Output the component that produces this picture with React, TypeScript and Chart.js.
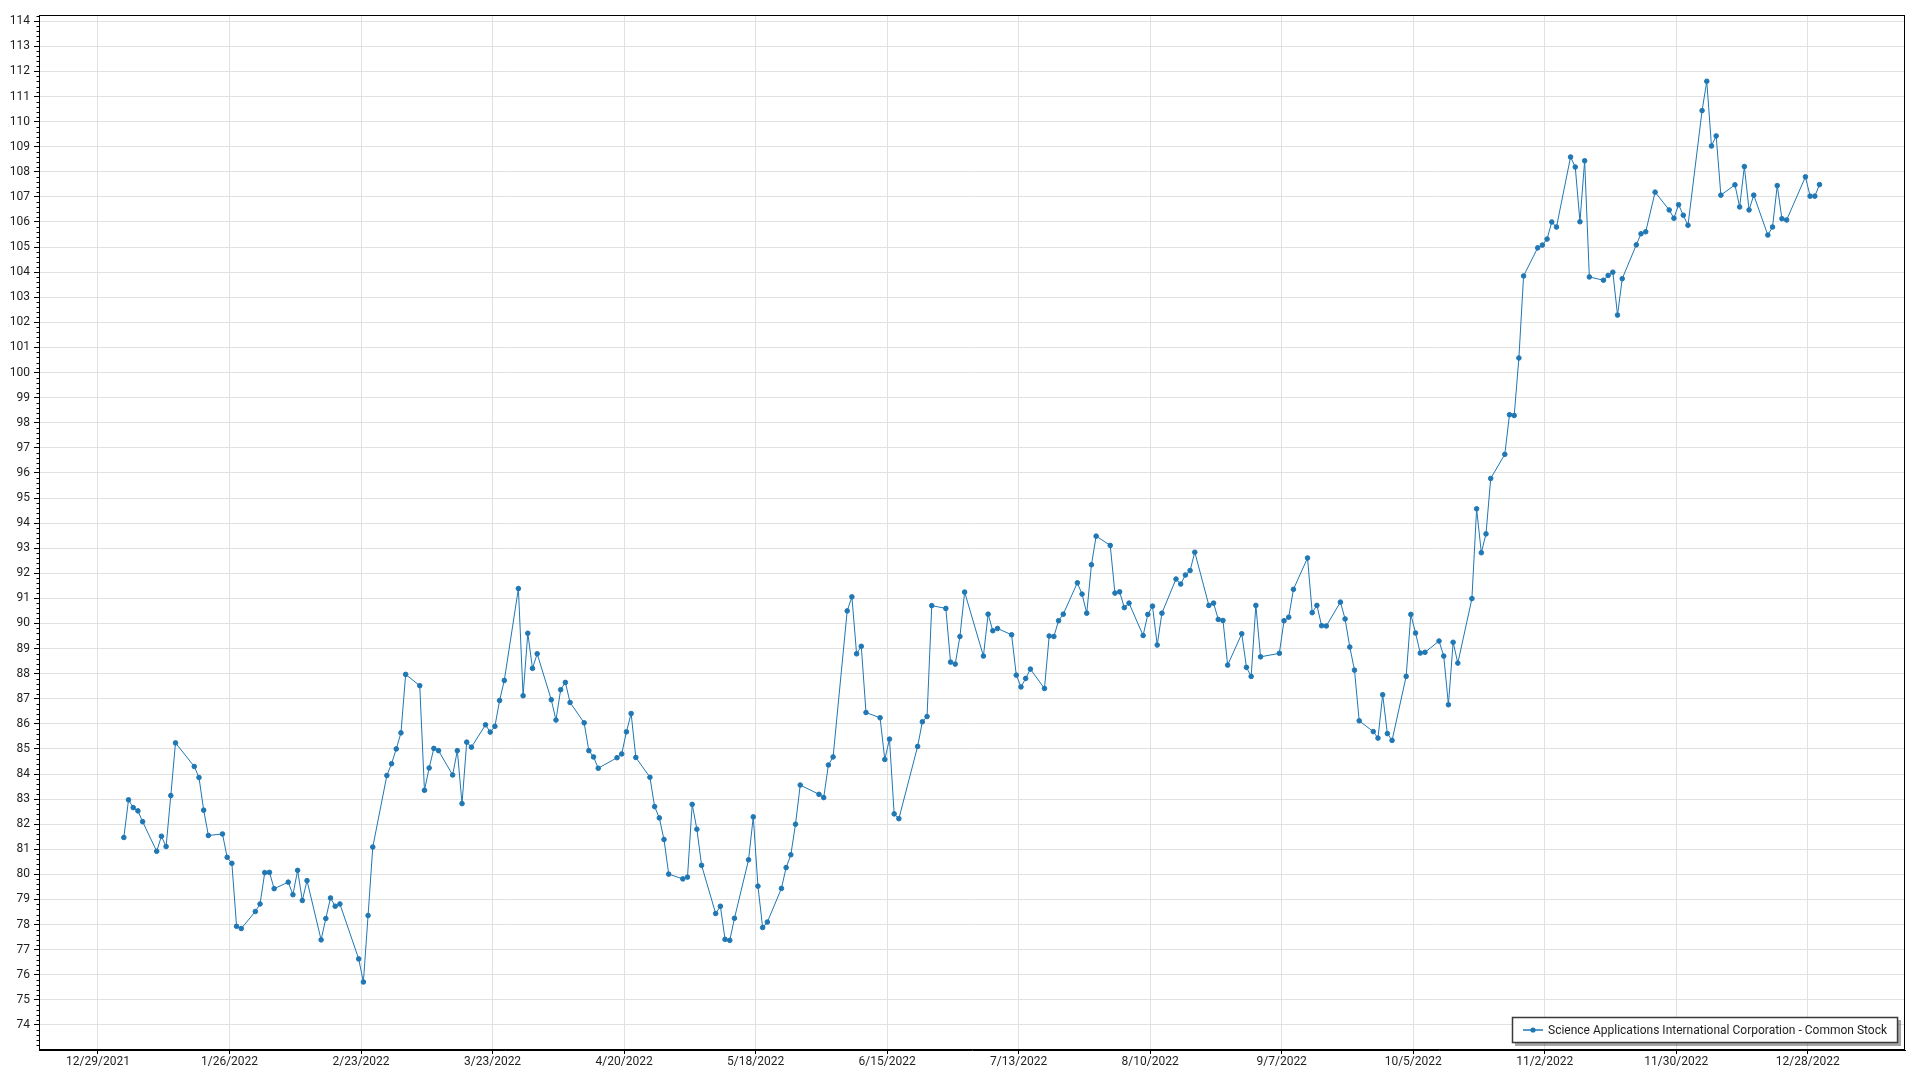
import React, { useEffect, useRef } from "react";
import { Chart, registerables } from "chart.js";

Chart.register(...registerables);

// ---------------- data ----------------
const seriesLabel = "Science Applications International Corporation - Common Stock";

const xTickLabels = [
  "12/29/2021", "1/26/2022", "2/23/2022", "3/23/2022", "4/20/2022", "5/18/2022", "6/15/2022",
  "7/13/2022", "8/10/2022", "9/7/2022", "10/5/2022", "11/2/2022", "11/30/2022", "12/28/2022",
];

const yTickValues = [
  74, 75, 76, 77, 78, 79, 80, 81, 82, 83, 84, 85, 86, 87, 88, 89, 90, 91, 92, 93, 94,
  95, 96, 97, 98, 99, 100, 101, 102, 103, 104, 105, 106, 107, 108, 109, 110, 111, 112, 113, 114,
];

// trading days (day of month) and closing prices, 2022
const janDays = [3, 4, 5, 6, 7, 10, 11, 12, 13, 14, 18, 19, 20, 21, 24, 25, 26, 27, 28, 31];
const janClose = [81.47, 82.97, 82.66, 82.53, 82.10, 80.92, 81.52, 81.11, 83.14, 85.24, 84.30, 83.86, 82.56, 81.55, 81.61, 80.68, 80.44, 77.93, 77.84, 78.52];

const febDays = [1, 2, 3, 4, 7, 8, 9, 10, 11, 14, 15, 16, 17, 18, 22, 23, 24, 25, 28];
const febClose = [78.82, 80.07, 80.08, 79.43, 79.69, 79.19, 80.16, 78.96, 79.75, 77.39, 78.24, 79.06, 78.73, 78.82, 76.63, 75.71, 78.36, 81.09, 83.94];

const marDays = [1, 2, 3, 4, 7, 8, 9, 10, 11, 14, 15, 16, 17, 18, 21, 22, 23, 24, 25, 28, 29, 30, 31];
const marClose = [84.41, 85.00, 85.64, 87.97, 87.52, 83.35, 84.24, 85.02, 84.93, 83.96, 84.93, 82.82, 85.27, 85.07, 85.96, 85.67, 85.90, 86.93, 87.73, 91.39, 87.12, 89.61, 88.21];

const aprDays = [1, 4, 5, 6, 7, 8, 11, 12, 13, 14, 18, 19, 20, 21, 22, 25, 26, 27, 28, 29];
const aprClose = [88.79, 86.96, 86.15, 87.36, 87.65, 86.85, 86.04, 84.93, 84.68, 84.23, 84.65, 84.80, 85.68, 86.41, 84.66, 83.87, 82.70, 82.25, 81.39, 80.01];

const mayDays = [2, 3, 4, 5, 6, 9, 10, 11, 12, 13, 16, 17, 18, 19, 20, 23, 24, 25, 26, 27, 31];
const mayClose = [79.82, 79.89, 82.79, 81.80, 80.36, 78.44, 78.73, 77.41, 77.37, 78.25, 80.58, 82.29, 79.53, 77.88, 78.10, 79.44, 80.27, 80.78, 82.00, 83.56, 83.19];

const junDays = [1, 2, 3, 6, 7, 8, 9, 10, 13, 14, 15, 16, 17, 21, 22, 23, 24, 27, 28, 29, 30];
const junClose = [83.06, 84.36, 84.68, 90.50, 91.06, 88.79, 89.09, 86.45, 86.24, 84.58, 85.39, 82.41, 82.22, 85.10, 86.08, 86.29, 90.71, 90.60, 88.46, 88.38, 89.48];

const julDays = [1, 5, 6, 7, 8, 11, 12, 13, 14, 15, 18, 19, 20, 21, 22, 25, 26, 27, 28, 29];
const julClose = [91.25, 88.70, 90.37, 89.71, 89.80, 89.55, 87.94, 87.47, 87.81, 88.18, 87.41, 89.50, 89.48, 90.11, 90.37, 91.62, 91.17, 90.41, 92.34, 93.48];

const augDays = [1, 2, 3, 4, 5, 8, 9, 10, 11, 12, 15, 16, 17, 18, 19, 22, 23, 24, 25, 26, 29, 30, 31];
const augClose = [93.11, 91.21, 91.26, 90.63, 90.81, 89.52, 90.36, 90.69, 89.14, 90.41, 91.77, 91.57, 91.93, 92.11, 92.84, 90.72, 90.81, 90.16, 90.12, 88.34, 89.59, 88.25, 87.89];

const sepDays = [1, 2, 6, 7, 8, 9, 12, 13, 14, 15, 16, 19, 20, 21, 22, 23, 26, 27, 28, 29, 30];
const sepClose = [90.72, 88.67, 88.81, 90.11, 90.25, 91.36, 92.61, 90.43, 90.72, 89.91, 89.90, 90.85, 90.18, 89.06, 88.14, 86.12, 85.69, 85.43, 87.16, 85.61, 85.34];

const octDays = [3, 4, 5, 6, 7, 10, 11, 12, 13, 14, 17, 18, 19, 20, 21, 24, 25, 26, 27, 28, 31];
const octClose = [87.89, 90.36, 89.62, 88.82, 88.85, 89.30, 88.70, 86.76, 89.25, 88.42, 90.99, 94.57, 92.82, 93.57, 95.78, 96.74, 98.32, 98.29, 100.58, 103.85, 104.97];

const novDays = [1, 2, 3, 4, 7, 8, 9, 10, 11, 14, 15, 16, 17, 18, 21, 22, 23, 25, 28, 29, 30];
const novClose = [105.08, 105.32, 106.00, 105.80, 108.59, 108.19, 106.01, 108.44, 103.81, 103.68, 103.87, 104.00, 102.29, 103.74, 105.09, 105.53, 105.61, 107.19, 106.48, 106.15, 106.69];

const decDays = [1, 2, 5, 6, 7, 8, 9, 12, 13, 14, 15, 16, 19, 20, 21, 22, 23, 27, 28, 29, 30];
const decClose = [106.27, 105.87, 110.44, 111.61, 109.03, 109.43, 107.07, 107.48, 106.60, 108.21, 106.48, 107.07, 105.48, 105.80, 107.45, 106.13, 106.08, 107.80, 107.03, 107.03, 107.49];

// ---------------- helpers ----------------
const DAY_MS = 86400000;
const ORIGIN = Date.UTC(2021, 11, 29); // 12/29/2021 = day 0 on the x axis

function dayIndex(year: number, month: number, day: number): number {
  return (Date.UTC(year, month, day) - ORIGIN) / DAY_MS;
}

function labelToDay(label: string): number {
  const [m, d, y] = label.split("/").map(Number);
  return dayIndex(y, m - 1, d);
}

const monthly: [number[], number[]][] = [
  [janDays, janClose], [febDays, febClose], [marDays, marClose], [aprDays, aprClose],
  [mayDays, mayClose], [junDays, junClose], [julDays, julClose], [augDays, augClose],
  [sepDays, sepClose], [octDays, octClose], [novDays, novClose], [decDays, decClose],
];

function buildPoints() {
  const pts: { x: number; y: number }[] = [];
  monthly.forEach(([days, closes], m) => {
    days.forEach((d, i) => {
      // quotes are stamped at midday
      pts.push({ x: dayIndex(2022, m, d) + 0.5, y: closes[i] });
    });
  });
  return pts;
}

const SERIES_COLOR = "#1f77b4";
const FONT_FAMILY = "'Segoe UI', Roboto, 'Noto Sans', sans-serif";
const TEXT_COLOR = "#1e1e1e";
const GRID_COLOR = "#e1e1e1";

const decorPlugin = {
  id: "decor",
  afterDraw(chart: any) {
    const { ctx, chartArea: a, scales } = chart;
    const ys = scales.y;
    ctx.save();
    // frame
    ctx.strokeStyle = "#000";
    ctx.lineWidth = 1;
    const L = Math.round(a.left) + 0.5;
    const R = Math.round(a.right) - 0.5;
    const T = Math.round(a.top) + 0.5;
    const B = Math.round(a.bottom) - 0.5;
    ctx.strokeRect(L, T, R - L, B - T);

    // minor ticks on y axis (every 0.2)
    ctx.beginPath();
    const start = Math.ceil(ys.min * 5);
    const end = Math.floor(ys.max * 5);
    for (let i = start; i <= end; i++) {
      if (i % 5 === 0) continue;
      const py = Math.round(ys.getPixelForValue(i / 5)) + 0.5;
      ctx.moveTo(L - 3, py);
      ctx.lineTo(L, py);
    }
    ctx.stroke();

    // legend (inside plot, lower right)
    const label = chart.data.datasets[0].label as string;
    ctx.font = `12px ${FONT_FAMILY}`;
    const tw = ctx.measureText(label).width;
    const h = 26;
    const w = 36 + tw + 11;
    const lx = Math.round(a.right - 7 - w);
    const ly = Math.round(a.bottom - 7 - h);
    ctx.fillStyle = "rgba(0,0,0,0.35)";
    ctx.fillRect(lx + 3, ly + 3, w, h);
    ctx.fillStyle = "#fff";
    ctx.fillRect(lx, ly, w, h);
    ctx.strokeStyle = "#3a3a3a";
    ctx.lineWidth = 1.5;
    ctx.strokeRect(lx + 0.5, ly + 0.5, w - 1, h - 1);
    const my = ly + h / 2;
    ctx.strokeStyle = SERIES_COLOR;
    ctx.lineWidth = 1.5;
    ctx.beginPath();
    ctx.moveTo(lx + 11, my);
    ctx.lineTo(lx + 31, my);
    ctx.stroke();
    ctx.fillStyle = SERIES_COLOR;
    ctx.beginPath();
    ctx.arc(lx + 21, my, 2.6, 0, Math.PI * 2);
    ctx.fill();
    ctx.fillStyle = TEXT_COLOR;
    ctx.textBaseline = "middle";
    ctx.textAlign = "left";
    ctx.fillText(label, lx + 36, my + 0.5);
    ctx.restore();
  },
};

export default function App() {
  const canvasRef = useRef<HTMLCanvasElement | null>(null);

  useEffect(() => {
    const canvas = canvasRef.current;
    if (!canvas) return;
    const xTickDays = xTickLabels.map(labelToDay);
    const font = { family: FONT_FAMILY, size: 12 };

    const chart = new Chart(canvas, {
      type: "line",
      data: {
        datasets: [
          {
            label: seriesLabel,
            data: buildPoints(),
            borderColor: SERIES_COLOR,
            backgroundColor: SERIES_COLOR,
            borderWidth: 1,
            tension: 0,
            pointRadius: 2.3,
            pointBorderWidth: 1,
            pointBackgroundColor: SERIES_COLOR,
            pointBorderColor: SERIES_COLOR,
            fill: false,
          },
        ],
      },
      options: {
        responsive: false,
        animation: false,
        events: [],
        layout: { padding: { top: 15, right: 15, left: 0, bottom: 0 } },
        plugins: {
          legend: { display: false },
          tooltip: { enabled: false },
        },
        scales: {
          x: {
            type: "linear",
            min: -12.56,
            max: 384.7,
            afterFit(scale: any) {
              scale.height = 30;
            },
            afterBuildTicks(scale: any) {
              scale.ticks = xTickDays.map((v) => ({ value: v }));
            },
            ticks: {
              autoSkip: false,
              maxRotation: 0,
              minRotation: 0,
              padding: 1,
              font,
              color: TEXT_COLOR,
              callback: (_v: any, i: number) => xTickLabels[i],
            },
            grid: {
              color: GRID_COLOR,
              tickColor: "#000",
              tickLength: 4,
              lineWidth: 1,
            },
            border: { color: "#000", width: 1 },
          },
          y: {
            type: "linear",
            min: 73,
            max: 114.25,
            afterFit(scale: any) {
              scale.width = 39;
            },
            afterBuildTicks(scale: any) {
              scale.ticks = yTickValues.map((v) => ({ value: v }));
            },
            ticks: {
              padding: 4,
              font,
              color: TEXT_COLOR,
              callback: (v: any) => String(v),
            },
            grid: {
              color: GRID_COLOR,
              tickColor: "#000",
              tickLength: 5,
              lineWidth: 1,
            },
            border: { color: "#000", width: 1 },
          },
        },
      },
      plugins: [decorPlugin],
    } as any);

    return () => {
      chart.destroy();
    };
  }, []);

  return (
    <div
      style={{
        position: "absolute",
        left: 0,
        top: 0,
        width: 1920,
        height: 1080,
        background: "#ffffff",
        overflow: "hidden",
      }}
    >
      <canvas ref={canvasRef} width={1920} height={1080} style={{ display: "block" }} />
    </div>
  );
}
